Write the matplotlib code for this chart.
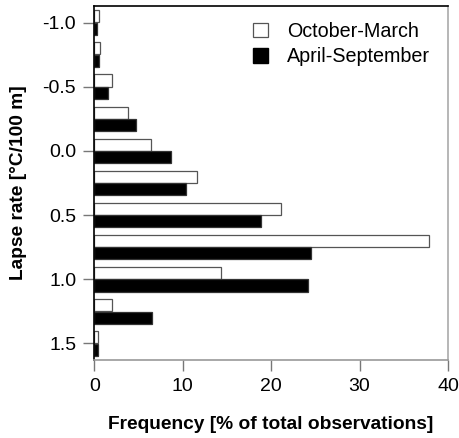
import numpy as np
import matplotlib
matplotlib.use("Agg")
from matplotlib import pyplot as plt
from matplotlib.patches import Patch

plt.rcParams['font.family'] = ['Liberation Sans', 'DejaVu Sans']

# lapse rate classes (degC / 100 m) and frequency in % of all observations
lapse_rate = [-1.0, -0.75, -0.5, -0.25, 0.0, 0.25, 0.5, 0.75, 1.0, 1.25, 1.5]
winter = [0.5, 0.65, 1.97, 3.86, 6.36, 11.6, 21.16, 37.9, 14.35, 1.97, 0.38]
summer = [0.34, 0.57, 1.55, 4.77, 8.67, 10.37, 18.84, 24.56, 24.14, 6.51, 0.45]

fig = plt.figure(figsize=(4.59, 4.38), dpi=100)
ax = fig.add_axes([0.2054, 0.178, 0.7706, 0.8083])

y = np.array(lapse_rate)
h = 0.094
ax.barh(y - h / 2 - 0.002, winter, height=h, color='white', edgecolor='#555555', linewidth=0.9)
ax.barh(y + h / 2 + 0.002, summer, height=h, color='black', edgecolor='#333333', linewidth=0.9)

ax.set_xlim(0, 40)
ax.set_ylim(1.63, -1.13)
ax.set_xticks([0, 10, 20, 30, 40])
ax.set_yticks([-1.0, -0.5, 0.0, 0.5, 1.0, 1.5])
ax.set_yticklabels(['-1.0', '-0.5', '0.0', '0.5', '1.0', '1.5'])
ax.tick_params(axis='both', direction='out', length=8, width=1, color='#777777',
               labelsize=14, pad=5)

ax.spines['left'].set_color('black')
ax.spines['top'].set_color('black')
ax.spines['right'].set_color('#aaaaaa')
ax.spines['bottom'].set_color('#999999')
for s in ax.spines.values():
    s.set_linewidth(1.2)

ax.set_xlabel('Frequency [% of total observations]', fontsize=13.8, fontweight='bold', labelpad=15)
ax.set_ylabel('Lapse rate [°C/100 m]', fontsize=13.8, fontweight='bold', labelpad=11)

handles = [Patch(facecolor='white', edgecolor='#555555', linewidth=0.9),
           Patch(facecolor='black', edgecolor='black')]
ax.legend(handles, ['October-March', 'April-September'], loc='upper left',
          bbox_to_anchor=(0.398, 1.005), frameon=False, fontsize=14.2,
          handlelength=0.75, handleheight=0.75, handletextpad=1.0, labelspacing=0.32)

fig.savefig('out.png', dpi=100)
